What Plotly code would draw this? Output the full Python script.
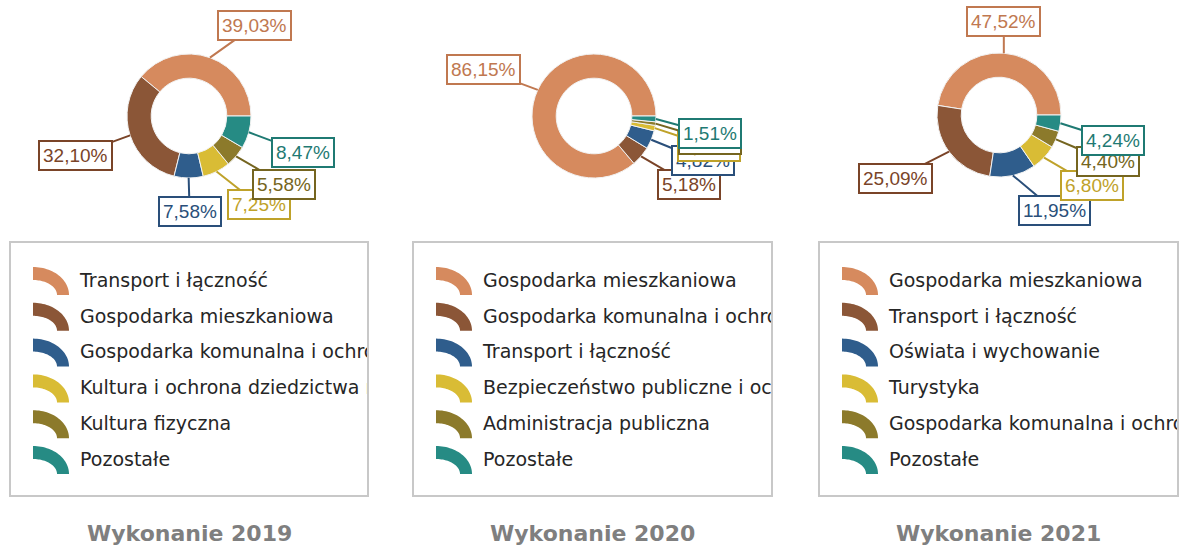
import math
import plotly.graph_objects as go

W, H = 1182, 551

# ---- data -------------------------------------------------------------
titles = ["Wykonanie 2019", "Wykonanie 2020", "Wykonanie 2021"]

labels_2019 = [
    "Transport i łączność",
    "Gospodarka mieszkaniowa",
    "Gospodarka komunalna i ochrona środowiska",
    "Kultura i ochrona dziedzictwa narodowego",
    "Kultura fizyczna",
    "Pozostałe",
]
values_2019 = [39.03, 32.10, 7.58, 7.25, 5.58, 8.47]

labels_2020 = [
    "Gospodarka mieszkaniowa",
    "Gospodarka komunalna i ochrona środowiska",
    "Transport i łączność",
    "Bezpieczeństwo publiczne i ochrona przeciwpożarowa",
    "Administracja publiczna",
    "Pozostałe",
]
values_2020 = [86.15, 5.18, 4.82, 1.42, 0.92, 1.51]

labels_2021 = [
    "Gospodarka mieszkaniowa",
    "Transport i łączność",
    "Oświata i wychowanie",
    "Turystyka",
    "Gospodarka komunalna i ochrona środowiska",
    "Pozostałe",
]
values_2021 = [47.52, 25.09, 11.95, 6.80, 4.40, 4.24]

# ---- styling ----------------------------------------------------------
slice_colors = ["#D68A5E", "#8B5637", "#2F5D8C", "#D9BC35", "#8C7A2B", "#268B84"]
label_colors = ["#C07850", "#7A4428", "#2A4F7A", "#BFA22A", "#756520", "#1F7A73"]

R_OUT = 62          # donut outer radius, px
HOLE = 0.61
BOX_TOP, BOX_BOTTOM = 242, 496
TITLE_Y = 533
ROW0, ROW_STEP = 40, 35.8
TEXT_X = 70

panels = [
    dict(labels=labels_2019, values=values_2019, cx=189, cy=116, box=(10, 368),
         offsets=[(45, -32), (-55, 20), (1, 34), (42, 33), (48, 28), (54, 20)]),
    dict(labels=labels_2020, values=values_2020, cx=594, cy=116, box=(413, 772),
         offsets=[(-54, -20), (48, 28), (52, 21), (54, 18), (54, 16), (54, 15)]),
    dict(labels=labels_2021, values=values_2021, cx=999, cy=115, box=(819, 1178),
         offsets=[(0, -32), (-53, 27), (42, 35), (48, 28), (52, 22), (53, 17)]),
]


def px_x(x):
    return x / W


def px_y(y):
    return 1 - y / H


def wrap_angle(a):
    return ((a + 180) % 360) - 180


def fmt_pct(v):
    return f"{v:.2f}".replace(".", ",") + "%"


fig = go.Figure()
annotations = []
shapes = []
layout_axes = {}

for k, p in enumerate(panels):
    vals = p["values"]
    total = sum(vals)
    cx, cy = p["cx"], p["cy"]

    # slices run counter-clockwise, the first one ending at 3 o'clock
    rotation = wrap_angle(90 - 360 * vals[0] / total)
    fig.add_trace(go.Pie(
        labels=p["labels"], values=vals, sort=False, direction="counterclockwise",
        rotation=rotation, hole=HOLE, textinfo="none", hoverinfo="label+percent",
        marker=dict(colors=slice_colors, line=dict(color="#F2F2F2", width=1)),
        domain=dict(x=[px_x(cx - R_OUT), px_x(cx + R_OUT)],
                    y=[px_y(cy + R_OUT), px_y(cy - R_OUT)]),
        showlegend=False,
    ))

    # boxed value labels with leader lines
    cum = 0.0
    for i, v in enumerate(vals):
        mid = 2 * math.pi * (cum + v / 2) / total
        cum += v
        tx = cx + R_OUT * math.cos(mid)
        ty = cy - R_OUT * math.sin(mid)
        dx, dy = p["offsets"][i]
        col = label_colors[i]
        annotations.append(dict(
            x=px_x(tx), y=px_y(ty), xref="paper", yref="paper",
            ax=dx, ay=dy, axref="pixel", ayref="pixel",
            text=fmt_pct(v), showarrow=True, arrowhead=0, arrowwidth=2,
            arrowcolor=col, standoff=0,
            bordercolor=col, borderwidth=2, borderpad=3, bgcolor="white",
            font=dict(family="Liberation Sans, Arial", size=19, color=col),
        ))

    # legend panel: a clipped cartesian subplot in pixel units
    bl, br = p["box"]
    bw, bh = br - bl, BOX_BOTTOM - BOX_TOP
    n = k + 1
    xa = "x" if n == 1 else f"x{n}"
    ya = "y" if n == 1 else f"y{n}"
    layout_axes["xaxis" if n == 1 else f"xaxis{n}"] = dict(
        domain=[px_x(bl), px_x(br)], range=[0, bw], visible=False,
        fixedrange=True, anchor=ya)
    layout_axes["yaxis" if n == 1 else f"yaxis{n}"] = dict(
        domain=[px_y(BOX_BOTTOM), px_y(BOX_TOP)], range=[bh, 0], visible=False,
        fixedrange=True, anchor=xa)

    rows = [ROW0 + j * ROW_STEP for j in range(len(p["labels"]))]
    fig.add_trace(go.Scatter(
        x=[TEXT_X] * len(rows), y=rows, text=p["labels"], mode="text",
        textposition="middle right", cliponaxis=True, hoverinfo="skip",
        textfont=dict(family="DejaVu Sans", size=19, color="#262626"),
        xaxis=xa, yaxis=ya, showlegend=False,
    ))

    # arc-shaped legend keys
    for j, yc in enumerate(rows):
        left, bottom = 23, yc + 13
        rxo, ryo, rxi, ryi = 36, 28, 24, 15
        steps = 28
        pts = []
        for s in range(steps + 1):
            t = math.pi / 2 * (1 - s / steps)
            pts.append((left + rxo * math.cos(t), bottom - ryo * math.sin(t)))
        for s in range(steps + 1):
            t = math.pi / 2 * (s / steps)
            pts.append((left + rxi * math.cos(t), bottom - ryi * math.sin(t)))
        path = "M " + " L ".join(f"{x:.2f},{y:.2f}" for x, y in pts) + " Z"
        shapes.append(dict(type="path", path=path, xref=xa, yref=ya,
                           fillcolor=slice_colors[j], line=dict(width=0)))

    # legend frame
    shapes.append(dict(type="rect", xref="paper", yref="paper",
                       x0=px_x(bl), x1=px_x(br), y0=px_y(BOX_BOTTOM), y1=px_y(BOX_TOP),
                       line=dict(color="#C8C8C8", width=2)))

    # panel title
    annotations.append(dict(
        x=px_x((bl + br) / 2), y=px_y(TITLE_Y), xref="paper", yref="paper",
        text=titles[k], showarrow=False, xanchor="center", yanchor="middle",
        font=dict(family="DejaVu Sans", size=22, color="#7F7F7F", weight="bold"),
    ))

fig.update_layout(
    width=W, height=H, autosize=False,
    margin=dict(l=0, r=0, t=0, b=0),
    paper_bgcolor="white", plot_bgcolor="white",
    annotations=annotations, shapes=shapes,
    showlegend=False,
    **layout_axes,
)

fig.write_html("out.html")
